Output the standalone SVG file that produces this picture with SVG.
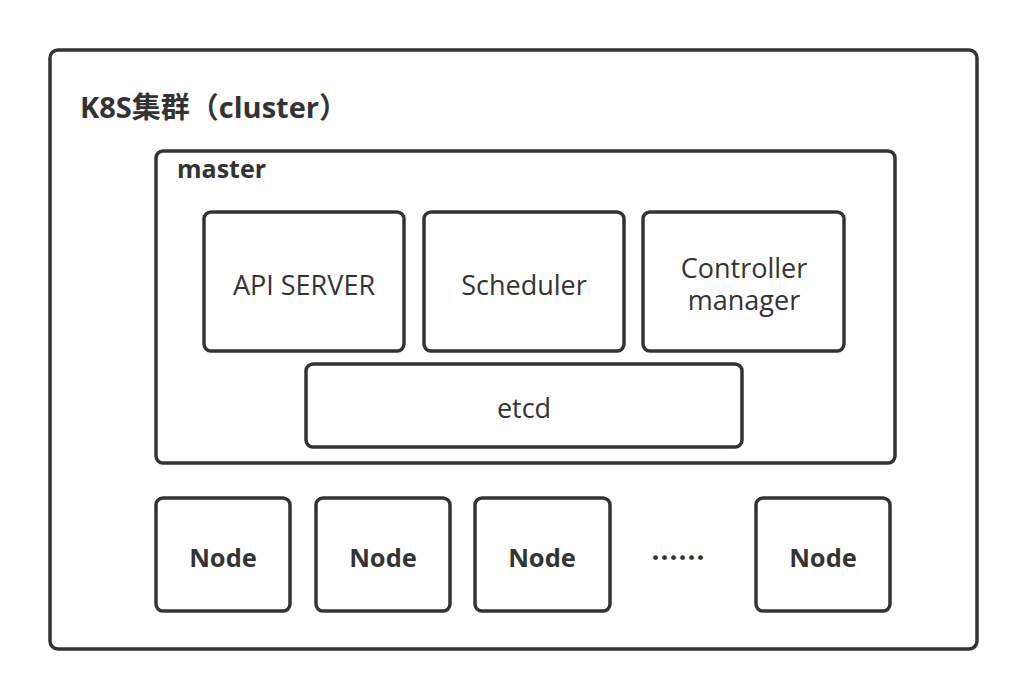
<svg xmlns="http://www.w3.org/2000/svg" width="1028" height="700" viewBox="0 0 1028 700">
<style>
rect{fill:#fff;stroke:#333;stroke-width:3.5}
text{fill:#333;font-family:"Open Sans","Noto Sans CJK SC",sans-serif}
.c{text-anchor:middle;font-size:27px}
.n{text-anchor:middle;font-size:25.5px;font-weight:bold}
.b{font-weight:bold}
</style>
<rect x="0" y="0" width="1028" height="700" style="stroke:none"/>
<g id="cluster">
<rect x="50" y="50" width="927" height="599" rx="8"/>
<text x="80" y="118" class="b" font-size="29">K8S集群（cluster）</text>
</g>
<g id="master">
<rect x="156" y="151" width="739" height="312" rx="7"/>
<text x="177" y="178" class="b" font-size="25">master</text>
</g>
<g id="api"><rect x="204" y="212" width="200" height="139" rx="7"/><text x="304" y="295" class="c">API SERVER</text></g>
<g id="scheduler"><rect x="424" y="212" width="200" height="139" rx="7"/><text x="524" y="295" class="c">Scheduler</text></g>
<g id="controller"><rect x="643" y="212" width="201" height="139" rx="7"/><text class="c"><tspan x="744" y="278">Controller</tspan><tspan x="744" y="310">manager</tspan></text></g>
<g id="etcd"><rect x="306" y="364" width="436" height="83" rx="7"/><text x="524" y="418" class="c">etcd</text></g>
<g id="node1"><rect x="156" y="498" width="134" height="113" rx="7"/><text x="223" y="567" class="n">Node</text></g>
<g id="node2"><rect x="316" y="498" width="134" height="113" rx="7"/><text x="383" y="567" class="n">Node</text></g>
<g id="node3"><rect x="475" y="498" width="135" height="113" rx="7"/><text x="542" y="567" class="n">Node</text></g>
<g id="dots"><text x="678" y="568" class="n" style="font-family:'Noto Sans CJK SC',sans-serif;font-size:27px;font-weight:900">……</text></g>
<g id="node4"><rect x="756" y="498" width="134" height="113" rx="7"/><text x="823" y="567" class="n">Node</text></g>
<g id="connectors"></g>
</svg>
